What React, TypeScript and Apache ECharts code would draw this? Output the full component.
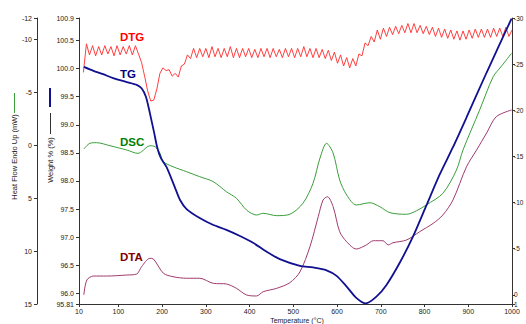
import React, { useEffect, useRef } from "react";
import * as echarts from "echarts";

const X_TICKS = [10, 100, 200, 300, 400, 500, 600, 700, 800, 900, 1000];
const WEIGHT_TICKS = [95.81, 96.0, 96.5, 97.0, 97.5, 98.0, 98.5, 99.0, 99.5, 100.0, 100.5, 100.9];
const HEAT_TICKS = [-12, -10, -5, 0, 5, 10, 15];
const RIGHT_TICKS = [-30, -25, -20, -15, -10, -5, 0, 1];

// TG: temperature (°C), weight (%)
const TG: [number, number][] = [
  [21, 100.03], [43, 99.96], [65, 99.9], [88, 99.83], [119, 99.76], [142, 99.71],
  [153, 99.65], [163, 99.5], [172, 99.21], [182, 98.85], [189, 98.59], [197, 98.41],
  [210, 98.25], [229, 97.89], [241, 97.66], [256, 97.5], [286, 97.34], [316, 97.22],
  [347, 97.13], [378, 97.02], [408, 96.9], [439, 96.74], [469, 96.61], [515, 96.49],
  [545, 96.46], [576, 96.41], [599, 96.31], [622, 96.12], [644, 95.92], [666, 95.82],
  [690, 95.94], [713, 96.15], [743, 96.54], [773, 97.0], [804, 97.56], [835, 98.12],
  [865, 98.6], [896, 99.13], [942, 99.93], [999, 100.89],
];

// DSC: temperature (°C), heat flow (mW)
const DSC: [number, number][] = [
  [21, 0.37], [35, -0.17], [50, -0.23], [81, 0.06], [119, 0.46], [145, 0.78],
  [153, 0.62], [172, 0.06], [184, 0.15], [195, 0.75], [203, 1.57], [225, 2.04],
  [256, 2.51], [286, 2.98], [317, 3.45], [347, 4.4], [370, 5.02], [393, 6.13],
  [416, 6.6], [431, 6.44], [462, 6.66], [492, 6.53], [522, 5.49], [545, 3.61],
  [561, 1.22], [576, -0.17], [591, 0.75], [606, 3.29], [622, 4.71], [644, 5.65],
  [675, 5.44], [698, 5.82], [721, 6.38], [759, 6.53], [782, 6.19], [804, 5.65],
  [842, 4.55], [873, 2.35], [888, 0.46], [926, -3.31], [957, -6.46], [975, -7.4],
  [999, -8.67],
];

// DTA: temperature (°C), right-axis value
const DTA: [number, number][] = [
  [21, 0.02], [28, -1.6], [43, -2.03], [73, -2.03], [119, -2.14], [142, -2.25],
  [153, -3.04], [172, -3.95], [180, -3.88], [203, -2.33], [225, -1.96], [256, -1.79],
  [286, -1.79], [317, -1.24], [347, -1.17], [370, -0.7], [393, 0.02], [416, 0.13],
  [431, -0.33], [462, -0.7], [492, -1.31], [515, -2.47], [538, -5.21], [557, -8.46],
  [568, -10.27], [578, -10.63], [591, -9.55], [606, -6.84], [622, -5.75], [644, -4.96],
  [667, -5.4], [683, -5.86], [705, -5.86], [717, -5.4], [728, -5.64], [759, -5.94],
  [789, -6.84], [820, -7.75], [842, -8.65], [865, -10.27], [896, -13.88], [919, -15.69],
  [942, -17.54], [964, -19.3], [999, -20.03],
];

// DTG: sampled every 7 °C from 20 °C to 1000 °C, right-axis value
const DTG_START = 20;
const DTG_STEP = 7;
const DTG_VALUES = [
  -24.1, -27.2, -26.0, -27.0, -25.9, -26.9, -26.0, -27.0, -26.1, -26.9,
  -25.9, -27.0, -26.0, -26.9, -26.1, -27.0, -26.0, -27.0, -26.1, -25.2,
  -23.7, -22.1, -21.0, -21.1, -22.3, -24.0, -24.6, -24.3, -24.4, -23.7,
  -24.0, -23.6, -24.8, -25.0, -26.0, -25.6, -26.7, -25.7, -26.7, -25.8,
  -26.7, -25.7, -26.9, -25.8, -26.7, -25.7, -26.7, -25.8, -26.9, -25.7,
  -26.7, -25.7, -26.7, -25.8, -26.7, -25.7, -26.6, -25.7, -26.7, -25.8,
  -26.7, -25.7, -26.7, -25.8, -26.6, -25.7, -26.7, -25.8, -26.7, -25.7,
  -26.7, -25.8, -26.9, -25.8, -26.7, -25.7, -26.7, -25.7, -26.6, -25.6,
  -26.5, -25.4, -26.3, -25.1, -26.0, -24.8, -25.7, -24.6, -25.6, -24.8,
  -26.1, -25.9, -27.3, -27.0, -28.0, -27.4, -28.7, -27.7, -28.9, -28.0,
  -29.0, -28.2, -29.1, -28.3, -29.2, -28.4, -29.4, -28.4, -29.4, -28.4,
  -29.2, -28.3, -29.1, -28.2, -29.0, -28.0, -28.9, -27.9, -28.8, -27.8,
  -28.7, -27.7, -28.6, -27.6, -28.6, -27.7, -28.7, -27.8, -28.8, -27.9,
  -28.8, -27.9, -28.8, -27.9, -28.9, -28.0, -28.9, -28.0, -29.0, -28.0,
  -28.7,
];

const FONT = "'Liberation Sans', Arial, sans-serif";
const AXIS_COLOR = "#333";

export default function App() {
  const ref = useRef<HTMLDivElement>(null);

  useEffect(() => {
    if (!ref.current) return;
    const chart = echarts.init(ref.current, undefined, { renderer: "svg" });
    const dtgData = DTG_VALUES.map((v, i) => [DTG_START + i * DTG_STEP, v]);

    const labelStyle = { fontSize: 7, color: "#222", fontFamily: FONT };

    chart.setOption({
      animation: false,
      backgroundColor: "#fff",
      grid: { left: 79, right: 14, top: 18, bottom: 20, outerBoundsMode: "none" },
      xAxis: {
        type: "value",
        min: 10,
        max: 1000,
        axisLine: { show: true, onZero: false, lineStyle: { color: AXIS_COLOR, width: 1 } },
        axisTick: { show: true, length: 3, customValues: X_TICKS, lineStyle: { color: AXIS_COLOR } },
        axisLabel: { ...labelStyle, margin: 4, customValues: X_TICKS, formatter: (v: number) => String(v) },
        splitLine: { show: false },
      },
      yAxis: [
        {
          type: "value",
          position: "left",
          min: 95.81,
          max: 100.9,
          axisLine: { show: true, onZero: false, lineStyle: { color: AXIS_COLOR, width: 1 } },
          axisTick: { show: true, length: 3, customValues: WEIGHT_TICKS, lineStyle: { color: AXIS_COLOR } },
          axisLabel: {
            ...labelStyle,
            margin: 5,
            customValues: WEIGHT_TICKS,
            formatter: (v: number) => (Math.abs(v - 95.81) < 1e-6 ? "95.81" : v.toFixed(1)),
          },
          splitLine: { show: false },
        },
        {
          type: "value",
          position: "left",
          offset: 42,
          inverse: true,
          min: -12,
          max: 15,
          axisLine: { show: true, onZero: false, lineStyle: { color: AXIS_COLOR, width: 1 } },
          axisTick: { show: true, length: 3, customValues: HEAT_TICKS, lineStyle: { color: AXIS_COLOR } },
          axisLabel: { ...labelStyle, margin: 5, customValues: HEAT_TICKS, formatter: (v: number) => String(v) },
          splitLine: { show: false },
        },
        {
          type: "value",
          position: "right",
          inverse: true,
          min: -30,
          max: 1,
          axisLine: { show: true, onZero: false, lineStyle: { color: AXIS_COLOR, width: 1 } },
          axisTick: { show: true, length: 3, customValues: RIGHT_TICKS, lineStyle: { color: AXIS_COLOR } },
          axisLabel: { ...labelStyle, fontSize: 6.5, margin: 2, customValues: RIGHT_TICKS, formatter: (v: number) => String(v) },
          splitLine: { show: false },
        },
      ],
      series: [
        {
          name: "DTG",
          type: "line",
          yAxisIndex: 2,
          data: dtgData,
          showSymbol: false,
          lineStyle: { color: "#ff2a2a", width: 0.9 },
          z: 2,
        },
        {
          name: "DSC",
          type: "line",
          yAxisIndex: 1,
          data: DSC,
          showSymbol: false,
          smooth: 0.3,
          lineStyle: { color: "#3a9e3a", width: 1 },
          z: 3,
        },
        {
          name: "DTA",
          type: "line",
          yAxisIndex: 2,
          data: DTA,
          showSymbol: false,
          smooth: 0.3,
          lineStyle: { color: "#a03a6e", width: 1 },
          z: 3,
        },
        {
          name: "TG",
          type: "line",
          yAxisIndex: 0,
          data: TG,
          showSymbol: false,
          smooth: 0.25,
          lineStyle: { color: "#101090", width: 1.8 },
          z: 4,
        },
      ],
      graphic: [
        { type: "line", shape: { x1: 14.5, y1: 93, x2: 14.5, y2: 113 }, style: { stroke: "#3a9e3a", lineWidth: 1 } },
        { type: "line", shape: { x1: 50, y1: 88, x2: 50, y2: 107 }, style: { stroke: "#101090", lineWidth: 2 } },
        { type: "line", shape: { x1: 50.5, y1: 113, x2: 50.5, y2: 134 }, style: { stroke: "#333", lineWidth: 1 } },
        {
          type: "text",
          x: 14.5,
          y: 157,
          rotation: Math.PI / 2,
          style: { text: "Heat Flow Endo Up (mW)", fontSize: 7.5, fontFamily: FONT, fill: "#222", textAlign: "center", textVerticalAlign: "middle" },
        },
        {
          type: "text",
          x: 50,
          y: 160,
          rotation: Math.PI / 2,
          style: { text: "Weight % (%)", fontSize: 7.5, fontFamily: FONT, fill: "#222", textAlign: "center", textVerticalAlign: "middle" },
        },
        {
          type: "text",
          x: 297,
          y: 324,
          style: { text: "Temperature (°C)", fontSize: 7, fontFamily: FONT, fill: "#222", textAlign: "center", textVerticalAlign: "bottom" },
        },
        {
          type: "text",
          x: 120,
          y: 36.5,
          style: { text: "DTG", fontSize: 11.5, fontWeight: "bold", fontFamily: FONT, fill: "#ff0000", textAlign: "left", textVerticalAlign: "middle" },
        },
        {
          type: "text",
          x: 120,
          y: 74,
          style: { text: "TG", fontSize: 11.5, fontWeight: "bold", fontFamily: FONT, fill: "#000080", textAlign: "left", textVerticalAlign: "middle" },
        },
        {
          type: "text",
          x: 120,
          y: 141.5,
          style: { text: "DSC", fontSize: 11.5, fontWeight: "bold", fontFamily: FONT, fill: "#008000", textAlign: "left", textVerticalAlign: "middle" },
        },
        {
          type: "text",
          x: 120,
          y: 256.5,
          style: { text: "DTA", fontSize: 11.5, fontWeight: "bold", fontFamily: FONT, fill: "#800000", textAlign: "left", textVerticalAlign: "middle" },
        },
      ],
    });

    return () => chart.dispose();
  }, []);

  return (
    <div
      ref={ref}
      style={{ position: "fixed", left: 0, top: 0, width: 526, height: 324, background: "#fff" }}
    />
  );
}
